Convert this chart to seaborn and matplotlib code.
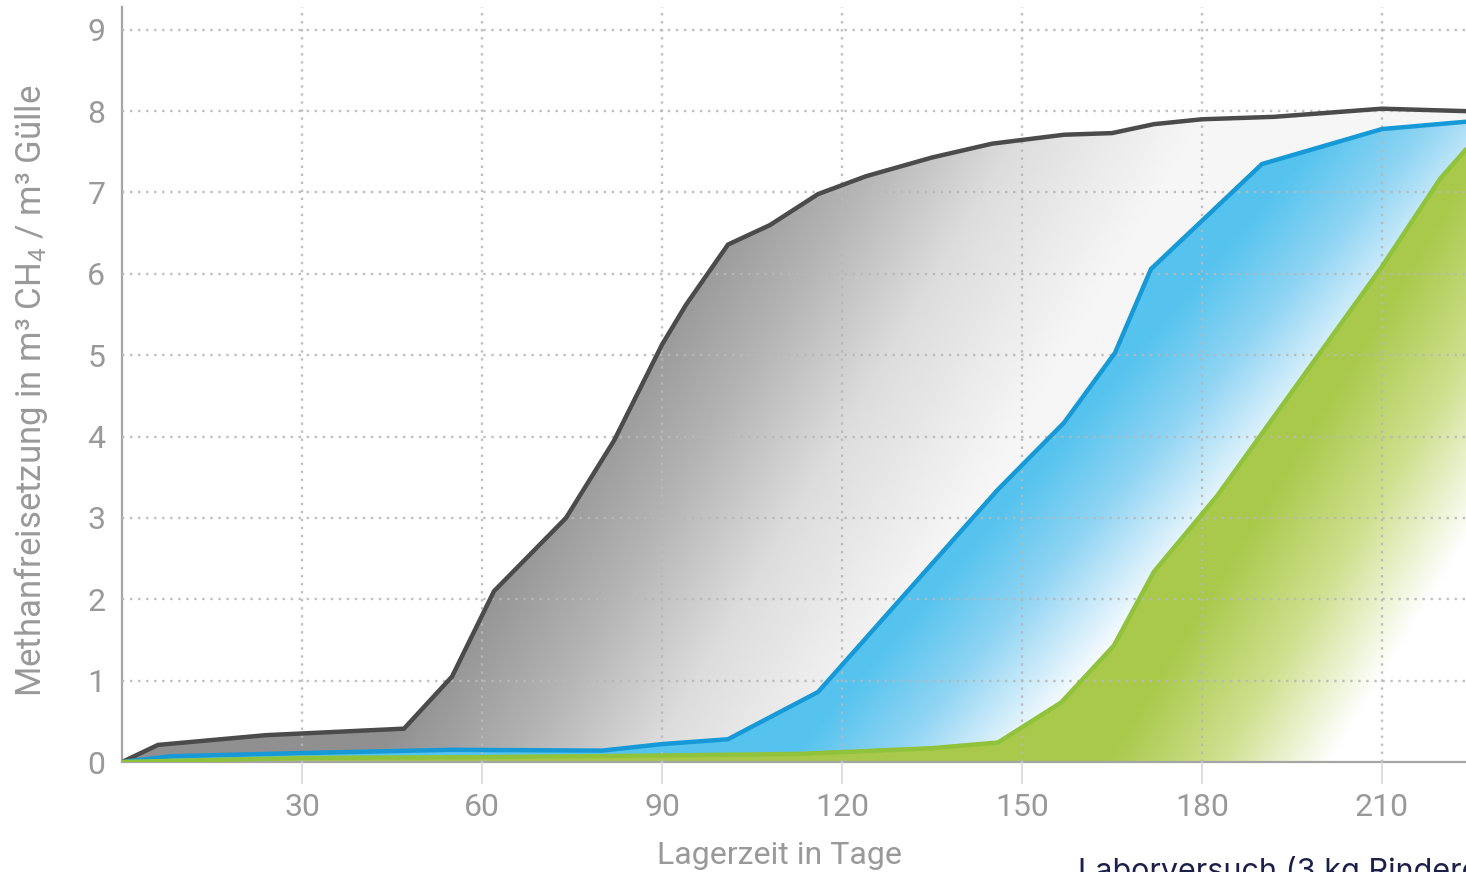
import numpy as np
import pandas as pd
import matplotlib
matplotlib.use("Agg")
import matplotlib.pyplot as plt
from matplotlib.colors import LinearSegmentedColormap
import seaborn as sns

# Cumulative methane release (m³ CH4 per m³ slurry) over storage time (days)
days_a = [0, 6, 24, 47, 55, 62, 74, 82, 90, 94, 101, 108, 116, 124, 135, 145,
          157, 165, 172, 180, 192, 210, 224]
vals_a = [0, 0.21, 0.33, 0.41, 1.05, 2.10, 3.00, 3.95, 5.13, 5.62, 6.36, 6.60,
          6.98, 7.20, 7.43, 7.60, 7.71, 7.73, 7.84, 7.90, 7.93, 8.03, 8.00]

days_b = [0, 8, 30, 55, 80, 90, 101, 116, 146, 157, 165.5, 171.5, 190, 210, 224]
vals_b = [0, 0.07, 0.11, 0.15, 0.14, 0.22, 0.28, 0.86, 3.35, 4.17, 5.03, 6.06,
          7.35, 7.78, 7.87]

days_c = [0, 30, 60, 90, 113, 135, 146, 156.5, 165.3, 172, 182.5, 210, 219.7, 224]
vals_c = [0, 0.05, 0.06, 0.08, 0.10, 0.17, 0.24, 0.73, 1.43, 2.34, 3.27, 6.09,
          7.17, 7.53]

x_ticks = [30, 60, 90, 120, 150, 180, 210]
y_ticks = [0, 1, 2, 3, 4, 5, 6, 7, 8, 9]

x_label = "Lagerzeit in Tage"
y_label = "Methanfreisetzung in m³ CH$_4$ / m³ Gülle"
footer = "Laborversuch (3 kg Rindergülle)"

# name, days, values, line colour, gradient stops, gradient range, gradient direction
series = [
    ("a", days_a, vals_a, "#4b4b4b",
     [(0.0, "#909090"), (0.32, "#b4b4b4"), (0.62, "#dddddd"), (1.0, "#f6f6f6")],
     (250, 700), (6.0, 48.0)),
    ("b", days_b, vals_b, "#1699d6",
     [(0.0, "#55c3ee"), (0.45, "#8fd4f3"), (1.0, "#f4fafe")],
     (505, 675), (4.56, 52.8)),
    ("c", days_c, vals_c, "#90c23c",
     [(0.0, "#a9c94b"), (0.5, "#cfe08f"), (1.0, "#ffffff")],
     (985, 1210), (6.0, 50.0)),
]

df = pd.concat(
    [pd.DataFrame({"Tag": d, "CH4": v, "Reihe": name})
     for name, d, v, *_ in series],
    ignore_index=True,
)

sns.set_theme(style="white")
plt.rcParams["font.family"] = ["Roboto", "DejaVu Sans"]
plt.rcParams["mathtext.default"] = "regular"

W, H = 1466, 872
fig = plt.figure(figsize=(W / 100, H / 100), dpi=100)
ax = fig.add_axes([122 / W, (H - 762) / H, 1 - 122 / W, (762 - 7) / H])

XMAX, YMAX = 224, 9.28

# Gradient-filled areas, clipped to the region under each curve
gx = np.linspace(0, XMAX, 600)
gy = np.linspace(0, YMAX, 400)
GX, GY = np.meshgrid(gx, gy)
for i, (name, d, v, lc, stops, (u0, u1), (kx, ky)) in enumerate(series):
    u = kx * GX - ky * GY
    t = np.clip((u - u0) / (u1 - u0), 0, 1)
    cmap = LinearSegmentedColormap.from_list(f"grad_{name}", stops)
    poly = ax.fill_between(d, 0, v, facecolor="none", edgecolor="none")
    im = ax.imshow(t, extent=[0, XMAX, 0, YMAX], origin="lower", aspect="auto",
                   cmap=cmap, vmin=0, vmax=1, zorder=1 + 0.1 * i,
                   interpolation="bilinear")
    im.set_clip_path(poly.get_paths()[0], transform=ax.transData)

sns.lineplot(data=df, x="Tag", y="CH4", hue="Reihe",
             palette={s[0]: s[3] for s in series}, legend=False,
             linewidth=3.2, zorder=3, ax=ax, solid_joinstyle="miter")

ax.set_xlim(0, XMAX)
ax.set_ylim(0, YMAX)
ax.set_xticks(x_ticks)
ax.set_yticks(y_ticks)

ax.set_axisbelow(False)
ax.grid(True, color="#b8b8b8", linestyle=(0, (1, 2.4)), linewidth=1.7, alpha=0.9)
for gl in ax.get_ygridlines()[:1]:
    gl.set_visible(False)

for side in ("top", "right"):
    ax.spines[side].set_visible(False)
for side in ("left", "bottom"):
    ax.spines[side].set_color("#a5a5a5")
    ax.spines[side].set_linewidth(1.6)

ax.tick_params(axis="x", length=16, width=1.2, color="#d8d8d8", pad=6,
               labelsize=23, labelcolor="#999999", direction="out", bottom=True)
ax.tick_params(axis="y", length=0, pad=12, labelsize=23, labelcolor="#999999")

ax.set_xlabel(x_label, fontsize=23, color="#999999")
ax.xaxis.set_label_coords((779 - 122) / 1344, -(841 - 762) / 755)
ax.set_ylabel(y_label, fontsize=25, color="#999999")
ax.yaxis.set_label_coords(-(122 - 50) / 1344, (762 - 391) / 755)

fig.text(1078 / W, 1 - 856 / H, footer, ha="left", va="top", fontsize=22,
         color="#1c1f4a", family=["Inter", "Lato", "DejaVu Sans"])

fig.savefig("out.png", dpi=100)
